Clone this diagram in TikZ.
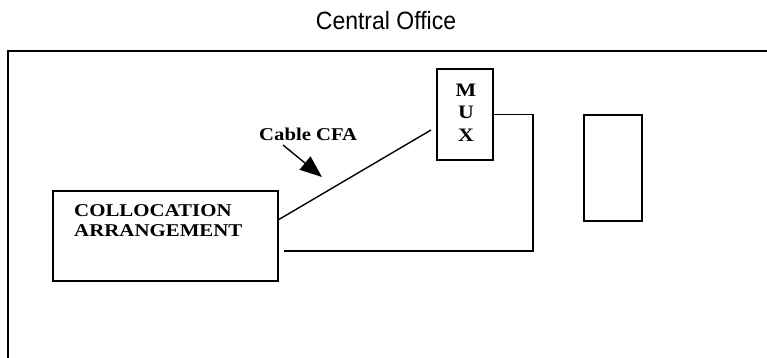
\documentclass[tikz,border=0pt]{standalone}
\usepackage{graphicx}
\usepackage{fontspec}
\setmainfont{Liberation Serif}
\setsansfont{Liberation Sans}
\usetikzlibrary{arrows.meta}
\begin{document}
\begin{tikzpicture}[x=1pt,y=-1pt,
  outer/.style={line width=2.2pt},
  box/.style={draw, line width=1.5pt, inner sep=0pt},
  wire/.style={line width=1.4pt},
  lbl/.style={inner sep=0pt, font=\rmfamily\bfseries\fontsize{18}{20}\selectfont},
  ttl/.style={inner sep=0pt, font=\sffamily\fontsize{25}{28}\selectfont}]
\useasboundingbox (0,0) rectangle (767,358);
% title
\node[ttl, anchor=base] (title) at (386,30) {\scalebox{0.92}[1]{Central Office}};
% outer office frame (cropped at right and bottom)
\coordinate (otr) at (767,51);
\coordinate (otl) at (8,51);
\coordinate (obl) at (8,358);
\draw[outer] (otr) -- (otl) -- (obl);
% collocation box
\node[box, minimum width=225pt, minimum height=90pt] (colloc) at (165.5,236) {};
\node[lbl, anchor=base west] (colloc1) at (74,216) {\scalebox{1.16}[1]{COLLOCATION}};
\node[lbl, anchor=base west] (colloc2) at (74,236) {\scalebox{1.16}[1]{ARRANGEMENT}};
% MUX
\node[box, minimum width=56pt, minimum height=91pt] (mux) at (465,114.5) {};
\node[lbl, anchor=base, font=\rmfamily\bfseries\fontsize{19}{20}\selectfont] (muxm) at (466,97) {\scalebox{1.15}[1]{M}};
\node[lbl, anchor=base, font=\rmfamily\bfseries\fontsize{19}{20}\selectfont] (muxu) at (466,119) {\scalebox{1.15}[1]{U}};
\node[lbl, anchor=base, font=\rmfamily\bfseries\fontsize{19}{20}\selectfont] (muxx) at (466,142) {\scalebox{1.15}[1]{X}};
% right empty box
\node[box, minimum width=58pt, minimum height=106pt] (rbox) at (613,168) {};
% cable CFA label and arrow
\node[lbl, anchor=base west] (cable) at (259,141) {\scalebox{1.15}[1]{Cable CFA}};
\coordinate (a1) at (283,145);
\coordinate (a2) at (322,177);
\draw[wire, -{Triangle[length=22pt,width=17pt]}] (a1) -- (a2);
% diagonal cable
\coordinate (d1) at (278,220);
\coordinate (d2) at (431,130);
\draw[wire] (d1) -- (d2);
% return feed
\coordinate (fc) at (533,251);
\coordinate (fend) at (284,251);
\draw[wire] (mux.east) -| (fc) -- (fend);
\end{tikzpicture}
\end{document}
